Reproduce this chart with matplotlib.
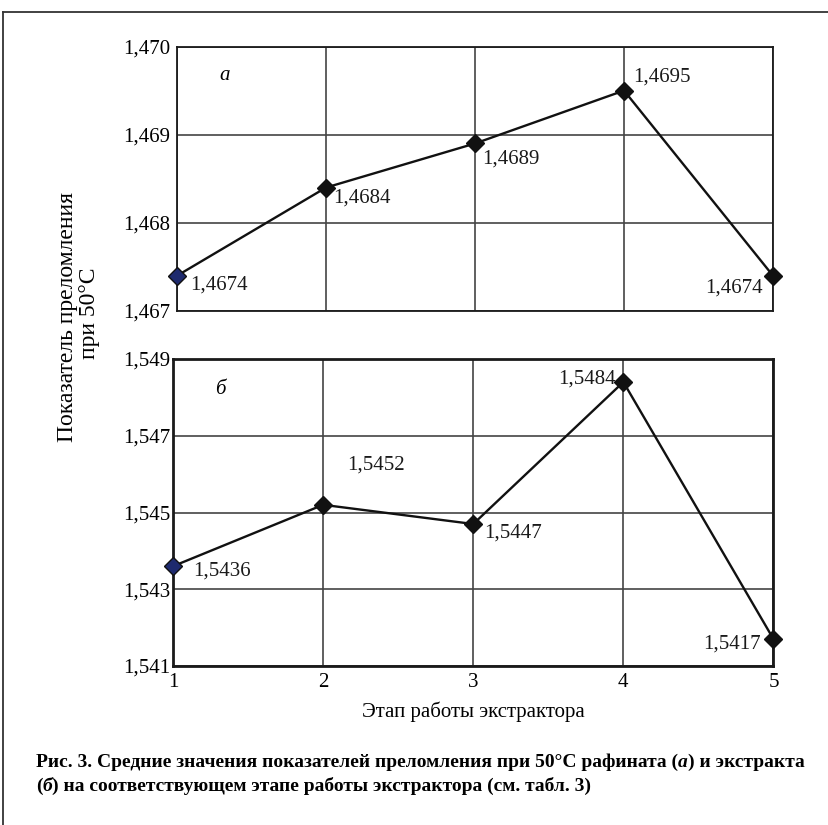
import matplotlib
matplotlib.use("Agg")
import matplotlib.pyplot as plt
from matplotlib.lines import Line2D

plt.rcParams['font.family'] = ['Liberation Serif', 'DejaVu Serif']

stages = [1, 2, 3, 4, 5]
raffinate = [1.4674, 1.4684, 1.4689, 1.4695, 1.4674]
extract = [1.5436, 1.5452, 1.5447, 1.5484, 1.5417]
raf_labels = ["1,4674", "1,4684", "1,4689", "1,4695", "1,4674"]
ext_labels = ["1,5436", "1,5452", "1,5447", "1,5484", "1,5417"]
raf_ticks = [1.467, 1.468, 1.469, 1.470]
raf_ticklabels = ["1,467", "1,468", "1,469", "1,470"]
ext_ticks = [1.541, 1.543, 1.545, 1.547, 1.549]
ext_ticklabels = ["1,541", "1,543", "1,545", "1,547", "1,549"]
x_ticklabels = ["1", "2", "3", "4", "5"]

W, H = 829, 825
DPI = 100
fig = plt.figure(figsize=(W / DPI, H / DPI), dpi=DPI)
px = 72.0 / DPI  # points per pixel

FS = 15

# page frame (top and left edges)
fig.add_artist(Line2D([3 / W, 1.0], [1 - 12 / H, 1 - 12 / H], transform=fig.transFigure,
                      color='#333333', lw=1.3))
fig.add_artist(Line2D([3 / W, 3 / W], [1 - 12 / H, 0.0], transform=fig.transFigure,
                      color='#333333', lw=1.3))

ax1 = fig.add_axes([177 / W, 1 - 311 / H, (773 - 177) / W, (311 - 46.5) / H])
ax2 = fig.add_axes([173 / W, 1 - 666 / H, (773.5 - 173) / W, (666 - 359) / H])


def style(ax, ticks, ticklabels, ylim, spine_lw, ypad):
    ax.set_xlim(1, 5)
    ax.set_ylim(*ylim)
    ax.set_yticks(ticks)
    ax.set_yticklabels(ticklabels, fontsize=FS)
    ax.set_xticks(stages)
    ax.grid(True, color='#444444', lw=1.2)
    ax.set_axisbelow(True)
    for s in ax.spines.values():
        s.set_linewidth(spine_lw)
        s.set_color('#1a1a1a')
    ax.tick_params(length=0, pad=ypad, labelsize=FS)


style(ax1, raf_ticks, raf_ticklabels, (1.467, 1.470), 1.3, ypad=7 * px)
ax1.set_xticklabels([])
style(ax2, ext_ticks, ext_ticklabels, (1.541, 1.549), 2.0, ypad=3 * px)
ax2.set_xticklabels(x_ticklabels, fontsize=FS)
ax2.tick_params(axis='x', pad=7 * px)


def draw_series(ax, ys):
    ax.plot(stages, ys, color='#111111', lw=1.7, zorder=3, clip_on=False)
    colors = ['#1e2a6e'] + ['#111111'] * (len(ys) - 1)
    for x, y, c in zip(stages, ys, colors):
        ax.plot([x], [y], marker='D', ms=9.5, mfc=c, mec='#111111', mew=1.0,
                zorder=4, clip_on=False, ls='none')


draw_series(ax1, raffinate)
draw_series(ax2, extract)

raf_off = [(13, -9, 'left'), (7, -10, 'left'), (7, -16, 'left'), (9, 14, 'left'), (-10, -12, 'right')]
ext_off = [(20, -5, 'left'), (24, 40, 'left'), (11, -9, 'left'), (-8, 3, 'right'), (-13, -5, 'right')]

for ax, ys, labs, offs in [(ax1, raffinate, raf_labels, raf_off), (ax2, extract, ext_labels, ext_off)]:
    for x, y, lab, (dx, dy, ha) in zip(stages, ys, labs, offs):
        ax.annotate(lab, (x, y), xytext=(dx * px, dy * px), textcoords='offset points',
                    ha=ha, va='center', fontsize=FS, color='#1a1a1a', zorder=5)

# panel letters
ax1.text(0.0805, 0.89, "а", transform=ax1.transAxes, fontsize=FS, style='italic',
         ha='center', va='center')
ax2.text(0.0795, 0.9, "б", transform=ax2.transAxes, fontsize=FS, style='italic',
         ha='center', va='center')

# y label (two lines)
fig.text(68 / W, 1 - 317 / H, "Показатель преломления", rotation=90, fontsize=17,
         ha='center', va='center')
fig.text(90 / W, 1 - 313 / H, "при 50°C", rotation=90, fontsize=17,
         ha='center', va='center')

# x label
fig.text(473 / W, 1 - 712 / H, "Этап работы экстрактора", fontsize=FS,
         ha='center', va='center')

# caption with italic pieces
CFS = 14.0
renderer = fig.canvas.get_renderer()


def place_runs(runs, x0, y0):
    x = x0
    for txt, italic in runs:
        t = fig.text(x / W, 1 - y0 / H, txt, fontsize=CFS, fontweight='bold',
                     style='italic' if italic else 'normal', ha='left', va='baseline')
        bb = t.get_window_extent(renderer=renderer)
        x += bb.width


place_runs([("Рис. 3. Средние значения показателей преломления при 50°С рафината (", False),
            ("а", True), (") и экстракта", False)], 36, 767)
place_runs([("(", False), ("б", True),
            (") на соответствующем этапе работы экстрактора (см. табл. 3)", False)], 36, 791)

fig.savefig("out.png", dpi=DPI)
